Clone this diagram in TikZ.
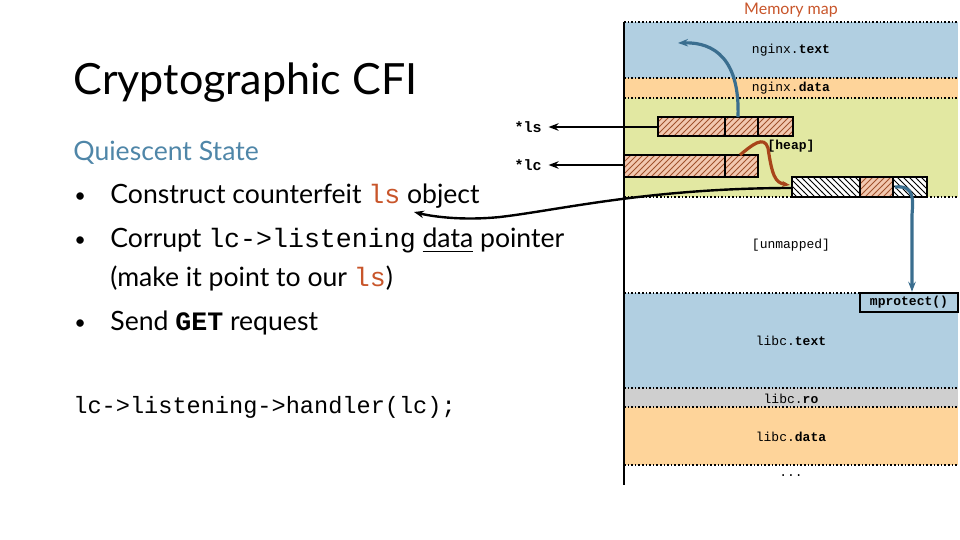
\documentclass[tikz,border=0pt]{standalone}
\usepackage{fontspec}
\setmainfont{Lato}
\setmonofont{Liberation Mono}
\usetikzlibrary{patterns,arrows.meta}
\definecolor{bandblue}{HTML}{B1CFE1}
\definecolor{bandorange}{HTML}{FED49A}
\definecolor{bandgreen}{HTML}{E2E8A2}
\definecolor{bandgray}{HTML}{CFCFCF}
\definecolor{hatchbrown}{HTML}{A0522D}
\definecolor{boxfill}{HTML}{F2C8B0}
\definecolor{arrblue}{HTML}{3A6E8F}
\definecolor{arrbrown}{HTML}{A8441A}
\definecolor{titleorange}{HTML}{C8552A}
\definecolor{stateblue}{HTML}{4F86A8}
\tikzset{
  sep/.style={densely dotted, line width=0.8pt},
  lbl/.style={font=\ttfamily\fontsize{6.5}{7}\selectfont},
  ptr/.style={font=\ttfamily\bfseries\fontsize{7.5}{8}\selectfont},
  bullet/.style={anchor=base west, inner sep=0pt, font=\fontsize{13.3}{16}\selectfont},
}
\begin{document}
\begin{tikzpicture}[x=0.5pt,y=-0.5pt]
  \useasboundingbox (0,0) rectangle (960,540);

  % bands of the memory map
  \fill[bandblue] (624,22) rectangle (958,78);
  \fill[bandorange] (624,78) rectangle (958,98);
  \fill[bandgreen] (624,98) rectangle (958,197);
  \fill[bandblue] (624,293) rectangle (958,388);
  \fill[bandgray] (624,388) rectangle (958,407);
  \fill[bandorange] (624,407) rectangle (958,465);
  \foreach \y in {22,78,98,197,293,388,407,465}
    \draw[sep] (624,\y) -- (958,\y);
  \draw[line width=1pt] (624,22) -- (624,485);

  \node[font=\fontsize{8}{9}\selectfont, text=titleorange] (maptitle) at (791,10) {Memory map};
  \node[lbl] (ntext) at (791,50) {nginx.\textbf{text}};
  \node[lbl] (ndata) at (791,88) {nginx.\textbf{data}};
  \node[lbl] (heap) at (791,146) {\textbf{[heap]}};
  \node[lbl] (unmap) at (791,245) {[unmapped]};
  \node[lbl] (ltext) at (791,341) {libc.\textbf{text}};
  \node[lbl] (lro) at (791,399) {libc.\textbf{ro}};
  \node[lbl] (ldata) at (791,437) {libc.\textbf{data}};
  \node[lbl] (dots) at (791,476) {...};

  % heap objects
  \fill[boxfill] (658,117) rectangle (793,136);
  \fill[pattern=north east lines, pattern color=hatchbrown] (658,117) rectangle (793,136);
  \draw[line width=1.2pt] (658,117) rectangle (793,136) (725,117) -- (725,136) (758,117) -- (758,136);
  \fill[boxfill] (624,155) rectangle (758,177);
  \fill[pattern=north east lines, pattern color=hatchbrown] (624,155) rectangle (758,177);
  \draw[line width=1.2pt] (624,155) rectangle (758,177) (725,155) -- (725,177);
  \fill[white] (792,177) rectangle (927,197);
  \fill[boxfill] (860,177) rectangle (893,197);
  \fill[pattern=north west lines] (792,177) rectangle (860,197);
  \fill[pattern=north east lines, pattern color=hatchbrown] (860,177) rectangle (893,197);
  \fill[pattern=north west lines] (893,177) rectangle (927,197);
  \draw[line width=1.2pt] (792,177) rectangle (927,197) (860,177) -- (860,197) (893,177) -- (893,197);
  \coordinate (lsbox) at (658,127);
  \coordinate (lcbox) at (624,165);
  \coordinate (fake) at (792,188);

  \node[ptr] (ls) at (528,127) {*ls};
  \node[ptr] (lc) at (528,165) {*lc};
  \draw[-{Stealth[length=5pt]}, line width=1.2pt] (lsbox) -- (ls.east);
  \draw[-{Stealth[length=5pt]}, line width=1.2pt] (lcbox) -- (lc.east);

  % control flow arrows
  \draw[-{Stealth[length=5pt]}, arrblue, line width=1.6pt] (738,117) .. controls (740,60) and (715,42) .. (678,43);
  \draw[-{Stealth[length=4pt]}, arrbrown, line width=1.6pt] (740,155) .. controls (752,145) and (764,135) .. (768,148) .. controls (772,175) and (775,183) .. (790,185);
  \draw[-{Stealth[length=5pt]}, line width=1.2pt] (fake) .. controls (650,188) and (560,210) .. (500,217) .. controls (460,221) and (430,216) .. (414,212);
  \node[draw, line width=1.2pt, fill=bandblue, font=\ttfamily\bfseries\fontsize{6.5}{7}\selectfont, minimum width=49pt, minimum height=9.5pt, inner sep=0pt] (mprot) at (909,302.5) {mprotect()};
  \draw[-{Stealth[length=5pt]}, arrblue, line width=1.6pt] (895,187) .. controls (915,185) and (913,200) .. (912,215) -- (mprot.north -| 912,0);

  % left text
  \node[anchor=base west, inner sep=0pt, font=\fontsize{21.5}{26}\selectfont] (title) at (73,95) {Cryptographic CFI};
  \node[anchor=base west, inner sep=0pt, font=\fontsize{13.3}{16}\selectfont, text=stateblue] (state) at (73,161) {Quiescent State};
  \node[bullet, font=\fontsize{10}{12}\selectfont] (b1) at (74,203) {•};
  \node[bullet] (t1) at (110,204) {Construct counterfeit \texttt{\textcolor{titleorange}{ls}} object};
  \node[bullet, font=\fontsize{10}{12}\selectfont] (b2) at (74,247) {•};
  \node[bullet] (t2) at (110,248) {Corrupt \texttt{lc->listening} \underline{data} pointer};
  \node[bullet] (t2b) at (110,286) {(make it point to our \texttt{\textcolor{titleorange}{ls}})};
  \node[bullet, font=\fontsize{10}{12}\selectfont] (b3) at (74,329) {•};
  \node[bullet] (t3) at (110,330) {Send \texttt{\textbf{GET}} request};
  \node[anchor=base west, inner sep=0pt, font=\ttfamily\fontsize{11.8}{14}\selectfont] (code) at (73,413) {lc->listening->handler(lc);};
\end{tikzpicture}
\end{document}
